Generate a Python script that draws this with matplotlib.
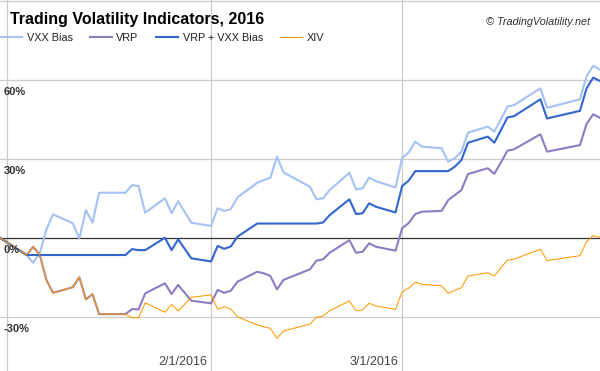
import matplotlib
matplotlib.use("Agg")
import matplotlib.pyplot as plt
import numpy as np
import pandas as pd

plt.rcParams["font.family"] = ["Liberation Sans", "DejaVu Sans"]

dates = ["2015-12-31",
         "2016-01-04", "2016-01-05", "2016-01-06", "2016-01-07", "2016-01-08",
         "2016-01-11", "2016-01-12", "2016-01-13", "2016-01-14", "2016-01-15",
         "2016-01-19", "2016-01-20", "2016-01-21", "2016-01-22",
         "2016-01-25", "2016-01-26", "2016-01-27", "2016-01-28", "2016-01-29",
         "2016-02-01", "2016-02-02", "2016-02-03", "2016-02-04", "2016-02-05",
         "2016-02-08", "2016-02-09", "2016-02-10", "2016-02-11", "2016-02-12",
         "2016-02-16", "2016-02-17", "2016-02-18", "2016-02-19",
         "2016-02-22", "2016-02-23", "2016-02-24", "2016-02-25", "2016-02-26",
         "2016-02-29", "2016-03-01", "2016-03-02", "2016-03-03", "2016-03-04",
         "2016-03-07", "2016-03-08", "2016-03-09", "2016-03-10", "2016-03-11",
         "2016-03-14", "2016-03-15", "2016-03-16", "2016-03-17", "2016-03-18",
         "2016-03-21", "2016-03-22", "2016-03-23", "2016-03-24",
         "2016-03-28", "2016-03-29", "2016-03-30", "2016-03-31"]

# values in percent
vxx_bias = [0,
            -6.5, -9.4, -5.8, 3.3, 9.0,
            5.6, -0.1, 10.6, 5.8, 17.2,
            17.2, 20.1, 19.7, 9.6,
            15.1, 9.4, 14.0, 9.9, 5.8,
            4.6, 11.3, 10.3, 11.0, 15.4,
            21.0, 22.0, 22.9, 30.9, 24.9,
            19.5, 14.7, 15.1, 18.2,
            24.8, 18.5, 18.9, 23.0, 21.6,
            19.2, 30.3, 32.5, 36.6, 34.7,
            34.1, 29.0, 30.3, 32.8, 40.0,
            42.3, 40.4, 45.1, 49.9, 50.5,
            55.3, 56.8, 49.5, 50.1,
            52.7, 61.4, 65.4, 64.0]

vrp = [0,
       -6.45, -3.3, -6.45, -15.9, -20.8,
       -18.7, -14.9, -23.3, -21.3, -28.9,
       -28.9, -27.0, -27.1, -21.0,
       -17.2, -21.3, -17.8, -20.8, -23.8,
       -24.8, -19.7, -20.8, -20.0, -16.6,
       -12.8, -13.4, -14.4, -19.5, -15.9,
       -11.9, -8.6, -8.1, -5.6,
       -0.8, -5.6, -5.2, -2.0, -3.3,
       -4.8, 3.7, 5.7, 9.1, 10.0,
       10.3, 14.4, 16.3, 18.2, 24.3,
       26.5, 24.4, 28.7, 33.2, 33.7,
       38.0, 39.4, 32.8, 33.3,
       35.3, 43.3, 47.0, 45.7]

vrp_vxx = [0,
           -6.45, -6.45, -6.45, -6.45, -6.45,
           -6.45, -6.45, -6.45, -6.45, -6.45,
           -6.45, -4.2, -4.6, -4.6,
           0.1, -4.6, -0.5, -4.1, -7.7,
           -8.9, -3.0, -4.1, -3.2, 0.5,
           5.5, 5.5, 5.5, 5.5, 5.5,
           5.5, 5.5, 5.9, 8.7,
           14.7, 9.1, 9.4, 13.2, 11.9,
           9.7, 19.7, 21.8, 25.4, 25.4,
           25.4, 25.4, 27.1, 29.6, 36.2,
           38.5, 36.2, 41.0, 45.8, 46.3,
           51.1, 52.7, 45.4, 46.0,
           48.3, 56.8, 60.9, 59.7]

xiv = [0,
       -6.45, -3.3, -6.45, -15.9, -20.8,
       -18.7, -14.9, -23.3, -21.3, -28.9,
       -28.9, -30.3, -30.3, -24.6,
       -28.2, -25.2, -27.7, -25.1, -22.5,
       -21.6, -27.0, -26.1, -27.0, -29.9,
       -33.0, -33.7, -34.3, -38.1, -35.3,
       -32.7, -30.1, -29.6, -27.6,
       -23.9, -27.6, -27.3, -24.8, -25.8,
       -27.1, -20.5, -19.0, -16.8, -17.6,
       -18.1, -21.0, -19.9, -18.9, -14.4,
       -13.2, -14.4, -11.3, -8.4, -8.0,
       -5.2, -4.3, -8.6, -8.2,
       -6.7, -1.4, 0.9, 0.3]

series_names = ["VXX Bias", "VRP", "VRP + VXX Bias", "XIV"]
yticks = [-30, 0, 30, 60, 90]
xticks = ["2016-01-01", "2016-02-01", "2016-03-01"]
xtick_labels = ["", "2/1/2016", "3/1/2016"]

x = pd.to_datetime(dates)

fig = plt.figure(figsize=(6, 3.71), dpi=100)
ax = fig.add_axes([0, 0, 1, 1])

ax.set_xlim(pd.Timestamp("2015-12-30 23:00"), pd.Timestamp("2016-03-31 01:00"))
ax.set_ylim(-50.5, 90.4)

for v in yticks:
    if v == 0:
        ax.axhline(v, color="#333333", lw=0.9, zorder=1)
    else:
        ax.axhline(v, color="#cccccc", lw=0.9, zorder=0)
for d in xticks:
    ax.axvline(pd.Timestamp(d), color="#cccccc", lw=0.9, zorder=0)

styles = [("#a4c2f4", 1.5), ("#8e7cc3", 1.5), ("#3366cc", 1.5), ("#ff9900", 0.75)]
data = [vxx_bias, vrp, vrp_vxx, xiv]
for name, vals, (c, lw) in zip(series_names, data, styles):
    ax.plot(x, vals, color=c, lw=lw, label=name, zorder=3)

ax.set_xticks([])
ax.set_yticks([])
for s in ax.spines.values():
    s.set_visible(False)

# y labels sit inside the plot, just under each gridline
for v in yticks[:-1]:
    ax.annotate(f"{v}%", xy=(0, v), xycoords=("axes fraction", "data"),
                xytext=(4, -14.5), textcoords="offset pixels",
                ha="left", va="baseline", fontsize=8, fontweight="bold",
                color="#333333")

for d, lab in zip(xticks, xtick_labels):
    if lab:
        ax.annotate(lab, xy=(pd.Timestamp(d), 0), xycoords=("data", "axes fraction"),
                    xytext=(-4, 6), textcoords="offset pixels",
                    ha="right", va="baseline", fontsize=9, color="#444444")

fig.text(10 / 600, 1 - 24 / 371, "Trading Volatility Indicators, 2016",
         fontsize=11.5, fontweight="bold", color="#000000", va="baseline", ha="left")
fig.text(590 / 600, 1 - 25 / 371, "\u00a9 TradingVolatility.net",
         fontsize=7.8, style="italic", color="#333333", va="baseline", ha="right")

fig.legend(loc="center left", bbox_to_anchor=(0, 1 - 38 / 371), ncol=4,
           frameon=False, fontsize=7.8, handlelength=2.0, handletextpad=0.45,
           columnspacing=1.6, borderpad=0, borderaxespad=0, labelcolor="#222222")

fig.savefig("out.png", dpi=100)
